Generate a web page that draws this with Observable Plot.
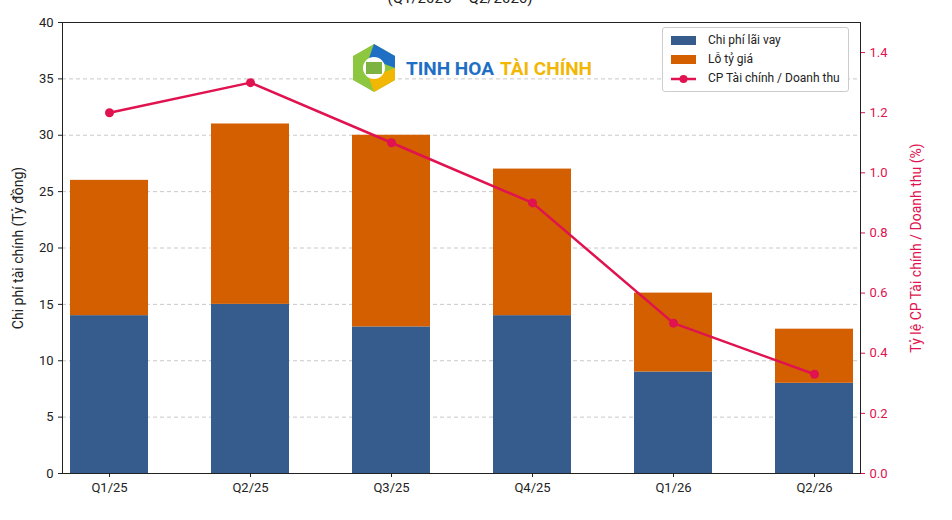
<!DOCTYPE html>
<html><head><meta charset="utf-8">
<script src="https://cdn.jsdelivr.net/npm/d3@7"></script>
<script src="https://cdn.jsdelivr.net/npm/@observablehq/plot@0.6"></script>
<style>
body{margin:0;background:#fff;font-family:Roboto,sans-serif;overflow:hidden}
#wrap{position:relative;width:952px;height:520px}
#title{position:absolute;top:-11px;left:0;width:920px;text-align:center;font-size:15px;color:#222}
#legend{position:absolute;left:662px;top:27px;background:#fff;border:1px solid #ccc;border-radius:3px;padding:3px 8px;font-size:12px;color:#222;line-height:19px}
#legend div{display:flex;align-items:center}
.sw{width:25px;height:9px;margin-right:12px}
#logo{position:absolute;left:348px;top:42px;display:flex;align-items:center;font-family:Roboto,sans-serif;font-weight:bold;font-size:19px}
</style></head><body>
<div id="wrap">
<div id="title">(Q1/2025 – Q2/2026)</div>
<div id="chart"></div>
<div id="logo"><svg width="52" height="52" viewBox="-26 -26 52 52"><polygon points="0,-24 21,-12 21,12 0,24 -21,12 -21,-12" fill="#8dc63f"/><polygon points="0,-24 21,-12 21,0 -5,-10" fill="#1f6fc5"/><polygon points="21,0 21,12 0,24 -5,10" fill="#f2b705"/><circle r="11" fill="#fff"/><rect x="-8" y="-6" width="16" height="12" fill="#7cb342"/></svg><span style="color:#1f6fc5;margin-left:6px">TINH HOA</span><span style="color:#f2b705;margin-left:6px">TÀI CHÍNH</span></div>
<div id="legend">
<div><span class="sw" style="background:#355c8c"></span>Chi phí lãi vay</div>
<div><span class="sw" style="background:#d35f00"></span>Lỗ tỷ giá</div>
<div><svg width="25" height="10" style="margin-right:12px"><line x1="0" y1="5" x2="25" y2="5" stroke="#e0124f" stroke-width="2.5"/><circle cx="12.5" cy="5" r="4" fill="#e0124f"/></svg>CP Tài chính / Doanh thu</div>
</div>
</div>
<script>
const quarters=["Q1/25","Q2/25","Q3/25","Q4/25","Q1/26","Q2/26"];
const interest=[14,15,13,14,9,8];
const fxLoss=[12,16,17,13,7,4.8];
const ratio=[1.2,1.3,1.1,0.9,0.5,0.33];
const rightTicks=[0,0.2,0.4,0.6,0.8,1.0,1.2,1.4];
const k=40/1.5;
const bars=[];
quarters.forEach((q,i)=>{bars.push({q,s:"Chi phí lãi vay",v:interest[i]});bars.push({q,s:"Lỗ tỷ giá",v:fxLoss[i]});});
const line=quarters.map((q,i)=>({q,r:ratio[i]*k}));
const chart=Plot.plot({
 width:952,height:520,marginLeft:62,marginRight:92,marginTop:22,marginBottom:47,
 style:{fontFamily:"Roboto",fontSize:"12px",color:"#222"},
 x:{domain:quarters,paddingInner:0.45,paddingOuter:0.05,label:null,tickSize:4},
 y:{domain:[0,40],ticks:d3.range(0,41,5),label:null,tickSize:4},
 color:{domain:["Chi phí lãi vay","Lỗ tỷ giá"],range:["#355c8c","#d35f00"]},
 marks:[
  Plot.gridY(d3.range(5,41,5),{stroke:"#bbb",strokeDasharray:"4,3",strokeOpacity:0.8}),
  Plot.barY(bars,Plot.stackY({x:"q",y:"v",fill:"s"})),
  Plot.line(line,{x:"q",y:"r",stroke:"#e0124f",strokeWidth:2.5}),
  Plot.dot(line,{x:"q",y:"r",fill:"#e0124f",r:4.5}),
  Plot.axisY({ticks:d3.range(0,41,5),label:null,tickSize:4,fontSize:13}),
  Plot.axisY(rightTicks.map(t=>t*k),{anchor:"right",tickFormat:d=>(d/k).toFixed(1),label:null,color:"#e0124f",tickSize:4,fontSize:13}),
  Plot.axisX({label:null,tickSize:4,fontSize:13}),
  Plot.frame({stroke:"#222"}),
  Plot.text(["Chi phí tài chính (Tỷ đồng)"],{frameAnchor:"left",textAnchor:"middle",dx:-44,rotate:-90,fontSize:14,fill:"#222"}),
  Plot.text(["Tỷ lệ CP Tài chính / Doanh thu (%)"],{frameAnchor:"right",textAnchor:"middle",dx:56,rotate:-90,fontSize:14,fill:"#e0124f"})
 ]
});
document.getElementById("chart").appendChild(chart);
</script>
</body></html>
